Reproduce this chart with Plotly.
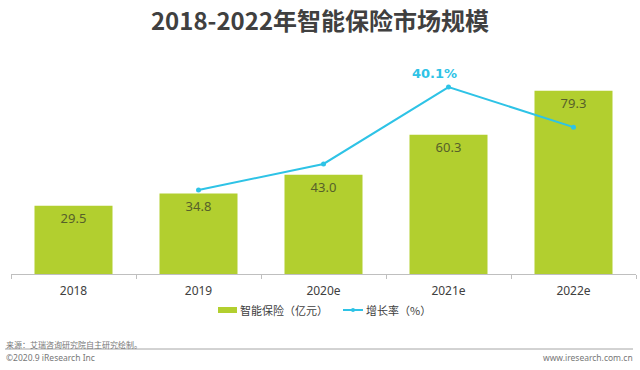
import plotly.graph_objects as go

categories = ["2018", "2019", "2020e", "2021e", "2022e"]
market_size = [29.5, 34.8, 43.0, 60.3, 79.3]
growth_years = ["2019", "2020e", "2021e", "2022e"]
growth_rate = [18.0, 23.6, 40.1, 31.5]
highlight_index = 2
bar_name = "智能保险（亿元）"
line_name = "增长率（%）"

BAR_COLOR = "#b2cf2f"
LINE_COLOR = "#2ec3e6"
TEXT_COLOR = "#404040"

# plot area in pixels
PL, PR, PT, PB = 11, 636, 60, 274
def px(x):
    return (x - PL) / (PR - PL)
def py(y):
    return (PB - y) / (PB - PT)

fig = go.Figure()
fig.add_trace(go.Bar(
    x=categories, y=market_size, name=bar_name,
    marker=dict(color=BAR_COLOR, line=dict(width=0)),
    width=0.624,
    text=[f"{v:.1f}" for v in market_size], textposition="inside",
    insidetextanchor="end", textangle=0,
    textfont=dict(color="#56602a", size=13, family="Noto Sans"),
    yaxis="y", showlegend=False,
))
fig.add_trace(go.Scatter(
    x=growth_years, y=growth_rate, name=line_name,
    mode="lines+markers",
    line=dict(color=LINE_COLOR, width=2),
    marker=dict(color=LINE_COLOR, size=5),
    yaxis="y2", showlegend=False,
))
fig.add_annotation(
    x=growth_years[highlight_index], y=growth_rate[highlight_index], yref="y2",
    text=f"<b>{growth_rate[highlight_index]:.1f}%</b>", showarrow=False,
    xshift=-14, yshift=14, font=dict(color=LINE_COLOR, size=13, family="DejaVu Sans"),
)

fig.update_layout(
    width=640, height=370,
    margin=dict(l=PL, r=640 - PR, t=PT, b=370 - PB),
    paper_bgcolor="white", plot_bgcolor="white",
    font=dict(family="Noto Sans CJK SC, Noto Sans", color=TEXT_COLOR),
    title=dict(text="<b>2018-2022年智能保险市场规模</b>", x=0.5, xanchor="center",
               y=1 - 22 / 370, yanchor="middle",
               font=dict(size=24, color=TEXT_COLOR, family="Noto Sans CJK SC")),
    xaxis=dict(showline=True, linecolor="#bfbfbf", linewidth=1,
               ticks="outside", tickson="boundaries", ticklen=4, tickcolor="#bfbfbf",
               tickfont=dict(size=12, color=TEXT_COLOR, family="Noto Sans"),
               ticklabelstandoff=6, showgrid=False),
    yaxis=dict(range=[0, 92.6], visible=False, showgrid=False),
    yaxis2=dict(range=[0, 45.9], overlaying="y", side="right", visible=False, showgrid=False),
    showlegend=False,
)

# legend (manual, to match the compact reference layout)
fig.add_shape(type="rect", xref="paper", yref="paper",
              x0=px(218), x1=px(237), y0=py(313), y1=py(307),
              fillcolor=BAR_COLOR, line=dict(width=0))
fig.add_annotation(text=bar_name, xref="paper", yref="paper", x=px(238), y=py(310),
                   xanchor="left", yanchor="middle", showarrow=False,
                   font=dict(size=11, color=TEXT_COLOR))
fig.add_shape(type="line", xref="paper", yref="paper",
              x0=px(343), x1=px(363), y0=py(310), y1=py(310),
              line=dict(color=LINE_COLOR, width=2))
fig.add_shape(type="circle", xref="paper", yref="paper",
              x0=px(351), x1=px(355), y0=py(312), y1=py(308),
              fillcolor=LINE_COLOR, line=dict(width=0))
fig.add_annotation(text=line_name, xref="paper", yref="paper", x=px(364), y=py(310),
                   xanchor="left", yanchor="middle", showarrow=False,
                   font=dict(size=11, color=TEXT_COLOR))

# footer
fig.add_annotation(text="来源：艾瑞咨询研究院自主研究绘制。", xref="paper", yref="paper",
                   x=px(4), y=py(344), xanchor="left", yanchor="middle",
                   showarrow=False, font=dict(size=8, color="#777777"))
fig.add_annotation(text="©2020.9 iResearch Inc", xref="paper", yref="paper",
                   x=px(4), y=py(357), xanchor="left", yanchor="middle",
                   showarrow=False, font=dict(size=8.5, color="#777777", family="Noto Sans"))
fig.add_annotation(text="www.iresearch.com.cn", xref="paper", yref="paper",
                   x=px(635), y=py(357), xanchor="right", yanchor="middle",
                   showarrow=False, font=dict(size=8.5, color="#777777", family="Noto Sans"))
fig.add_shape(type="line", xref="paper", yref="paper",
              x0=px(5), x1=px(633), y0=py(349), y1=py(349),
              line=dict(color="#a6a6a6", width=1))

fig.write_html("out.html", config={"displayModeBar": False},
               post_script="document.body.style.margin='0';")
